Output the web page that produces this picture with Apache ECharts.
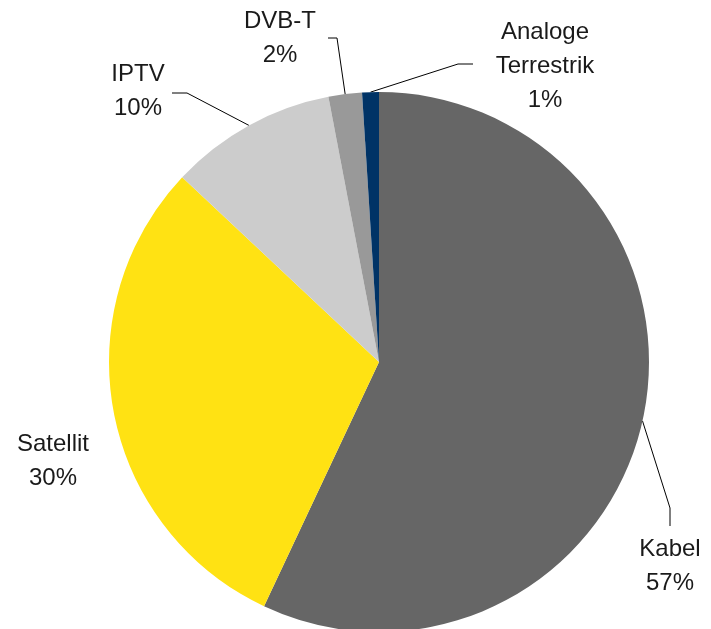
<!DOCTYPE html>
<html><head><meta charset="utf-8">
<script src="https://cdn.jsdelivr.net/npm/echarts@6/dist/echarts.min.js"></script>
<style>html,body{margin:0;padding:0;background:#fff}#c{width:711px;height:629px}</style>
</head><body><div id="c"></div>
<script>
const categories = ['Kabel', 'Satellit', 'IPTV', 'DVB-T', 'Analoge\nTerrestrik'];
const values = [57, 30, 10, 2, 1];
const colors = ['#666666', '#FFE213', '#CCCCCC', '#999999', '#003366'];
const showLeader = [true, false, true, true, true];
// label block centres and leader bends (layout, not data)
const labelPos = [[670, 566], [53, 461], [138, 91], [280, 38], [545, 66]];
const leaderBends = [
  [[670, 508], [670, 526]],
  [],
  [[187, 93], [172, 93]],
  [[337, 38], [328, 38]],
  [[458, 64], [473, 64]]
];

const chart = echarts.init(document.getElementById('c'));
chart.setOption({
  animation: false,
  series: [{
    type: 'pie',
    center: [379, 362],
    radius: 270,
    startAngle: 90,
    clockwise: true,
    avoidLabelOverlap: false,
    itemStyle: {borderWidth: 0},
    label: {
      show: true, position: 'outside',
      formatter: p => p.name + '\n' + Math.round(p.percent) + '%',
      fontFamily: 'Liberation Sans', fontSize: 24, lineHeight: 34,
      color: '#1a1a1a', align: 'center'
    },
    labelLine: {show: true, lineStyle: {color: '#000', width: 1}},
    labelLayout: function (p) {
      const i = p.dataIndex;
      const out = {x: labelPos[i][0], y: labelPos[i][1], align: 'center', verticalAlign: 'middle'};
      if (showLeader[i] && p.labelLinePoints) {
        out.labelLinePoints = [p.labelLinePoints[0]].concat(leaderBends[i]);
      }
      return out;
    },
    data: categories.map((c, i) => ({
      name: c, value: values[i],
      itemStyle: {color: colors[i]},
      labelLine: {show: showLeader[i]}
    })),
    emphasis: {disabled: true}
  }]
});
</script></body></html>
